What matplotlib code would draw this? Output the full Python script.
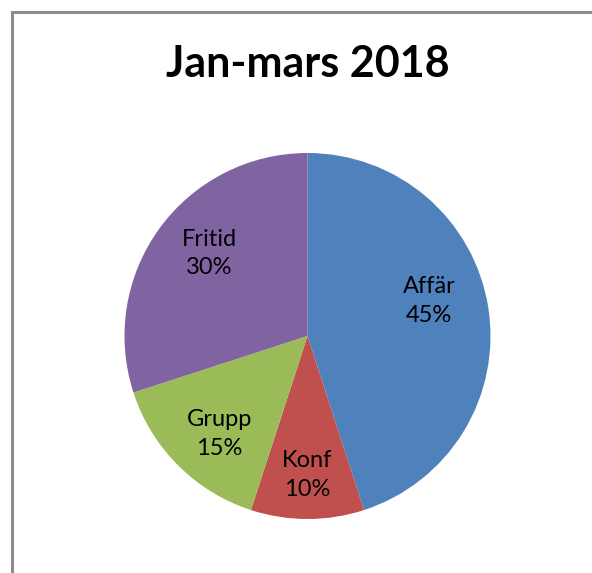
import matplotlib.pyplot as plt
import numpy as np
from matplotlib.patches import Rectangle

categories = ["Affär", "Konf", "Grupp", "Fritid"]
shares = [45, 10, 15, 30]
colors = ["#4F81BD", "#C0504D", "#9BBB59", "#8064A2"]

W, H = 592, 573
fig = plt.figure(figsize=(W / 100, H / 100), dpi=100)

# grey chart border (right/bottom run off the picture)
fig.patches.append(Rectangle((11.5 / W, -0.1), 1.2, (H - 11.5) / H + 0.1,
                             transform=fig.transFigure, fill=False,
                             edgecolor="#8c8c8c", linewidth=2.2))

cx, cy, r = 307.5, 336, 183
ax = fig.add_axes([(cx - r) / W, (H - cy - r) / H, 2 * r / W, 2 * r / H])
wedges, _ = ax.pie(shares, colors=colors, startangle=90, counterclock=False,
                   radius=1, wedgeprops=dict(linewidth=0))
ax.set_xlim(-1, 1)
ax.set_ylim(-1, 1)
ax.set_aspect("equal")
ax.axis("off")

# label distance and small angle nudge, like Excel's best-fit placement
dist = [0.69, 0.76, 0.72, 0.70]
nudge = [7, 0, 3, -4]
for w, name, val, d, n in zip(wedges, categories, shares, dist, nudge):
    ang = np.deg2rad((w.theta1 + w.theta2) / 2 + n)
    ax.text(d * np.cos(ang), d * np.sin(ang), f"{name}\n{val}%",
            ha="center", va="center", fontsize=17, family="Lato",
            linespacing=1.45, color="black")

fig.text(cx / W, 1 - 64 / H, "Jan-mars 2018", ha="center", va="center",
         fontsize=31, fontweight="bold", family="Lato")

fig.savefig("out.png", dpi=100)
